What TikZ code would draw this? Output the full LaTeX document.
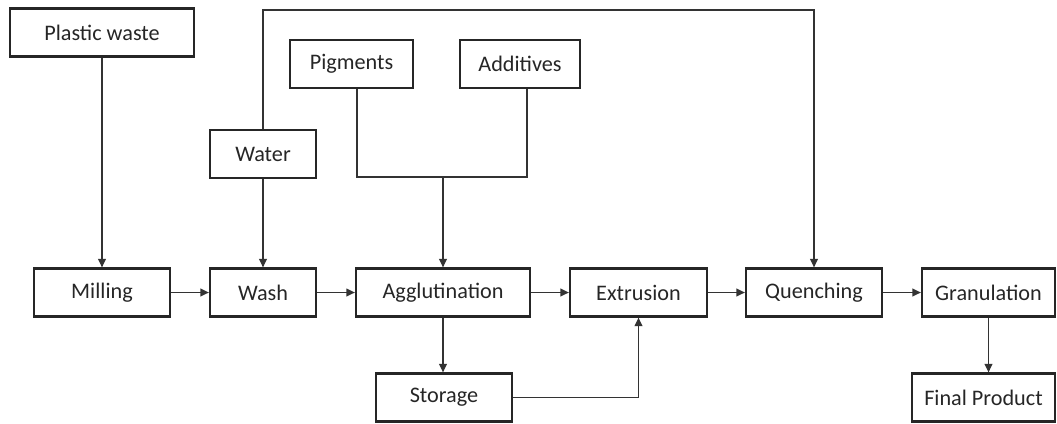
\documentclass[tikz,border=0pt]{standalone}
\usepackage{fontspec}
\setmainfont{Carlito}
\usetikzlibrary{arrows.meta}
\begin{document}
\begin{tikzpicture}[x=0.025cm, y=-0.025cm,
  box/.style={draw=black!85, line width=1.6pt, inner sep=0pt, minimum height=1.2cm,
    text=black!85, font=\fontsize{15.8}{18}\selectfont},
  link/.style={draw=black!80, line width=0.9pt},
  flow/.style={link, -{Triangle[length=6pt, width=5.5pt]}}]
\def\yt{32.5};
\def\yw{154};
\def\yp{64};
\def\yr{292.5};
\def\yb{397.5};
\def\yj{177};
\def\ytop{10};

\useasboundingbox (0,0) rectangle (1057,423);

% inputs
\node[box, minimum width=4.6cm] (plastic) at (102, \yt) {Plastic waste};
\node[box, minimum width=2.65cm] (water) at (263, \yw) {Water};
\node[box, minimum width=3.075cm] (pig) at (351.5, \yp) {Pigments};
\node[box, minimum width=3.0cm] (add) at (520, \yp) {Additives};

% main line
\node[box, minimum width=3.4cm] (mill) at (102, \yr) {Milling};
\node[box, minimum width=2.65cm] (wash) at (263, \yr) {Wash};
\node[box, minimum width=4.35cm] (agg) at (443, \yr) {Agglutination};
\node[box, minimum width=3.425cm] (extr) at (638.5, \yr) {Extrusion};
\node[box, minimum width=3.4cm] (quench) at (814, \yr) {Quenching};
\node[box, minimum width=3.325cm] (gran) at (988.5, \yr) {Granulation};

% outputs
\node[box, minimum width=3.4cm] (store) at (444, \yb) {Storage};
\node[box, minimum width=3.575cm] (final) at (983.5, \yb) {Final Product};

\coordinate (jl) at (357, \yj);
\coordinate (jr) at (527, \yj);
\coordinate (tl) at (263, \ytop);
\coordinate (tr) at (814, \ytop);

\draw[flow] (plastic) -- (mill);
\draw[flow] (water) -- (wash);
\draw[flow] (water.north) -- (tl) -- (tr) -- (quench.north);
\draw[link] (pig.south -| jl) -- (jl) -- (jr) -- (add.south -| jr);
\draw[flow] (agg.north |- jl) -- (agg.north);

\draw[flow] (mill) -- (wash);
\draw[flow] (wash) -- (agg);
\draw[flow] (agg) -- (extr);
\draw[flow] (extr) -- (quench);
\draw[flow] (quench) -- (gran);

\draw[flow] (agg.south) -- (agg.south |- store.north);
\draw[flow] (store.east) -| (extr.south);
\draw[flow] (gran.south) -- (gran.south |- final.north);

\end{tikzpicture}
\end{document}
